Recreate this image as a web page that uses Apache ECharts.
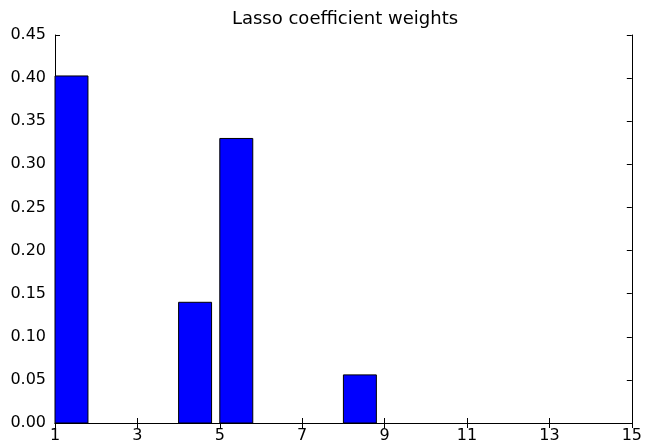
<!DOCTYPE html>
<html>
<head>
<meta charset="utf-8">
<script src="https://cdn.jsdelivr.net/npm/echarts@6/dist/echarts.min.js"></script>
<style>html,body{margin:0;padding:0;background:#fff}#c{width:645px;height:448px}</style>
</head>
<body>
<div id="c"></div>
<script>
const features = [1, 2, 3, 4, 5, 6, 7, 8, 9, 10, 11, 12, 13, 14];
const weights = [0.4025, 0, 0, 0.140, 0.330, 0, 0, 0.0558, 0, 0, 0, 0, 0, 0];
const xTicks = [1, 3, 5, 7, 9, 11, 13, 15];
const yTicks = [0, 0.05, 0.10, 0.15, 0.20, 0.25, 0.30, 0.35, 0.40, 0.45];

const BAR_W = 0.8;
const font = 'DejaVu Sans';
const chart = echarts.init(document.getElementById('c'), null, {renderer: 'canvas'});
const data = features.map((f, i) => [f, weights[i]]).filter(d => d[1] > 0);

const axisCommon = {
  axisLine: {show: true, lineStyle: {color: '#000', width: 1}},
  axisTick: {show: true, inside: true, length: 5, lineStyle: {color: '#000', width: 1}},
  splitLine: {show: false}
};

chart.setOption({
  animation: false,
  backgroundColor: '#fff',
  title: {
    text: 'Lasso coefficient weights',
    left: 340, textAlign: 'center', top: 5,
    textStyle: {fontFamily: font, fontSize: 18, fontWeight: 'normal', color: '#000'}
  },
  grid: {left: 55, right: 11, top: 35, bottom: 25, containLabel: false},
  xAxis: [
    Object.assign({type: 'value', position: 'bottom', min: xTicks[0], max: xTicks[xTicks.length - 1], interval: 2,
      axisLabel: {fontFamily: font, fontSize: 16, color: '#000', margin: 5}}, axisCommon),
    Object.assign({type: 'value', position: 'top', min: xTicks[0], max: xTicks[xTicks.length - 1], interval: 2,
      axisLabel: {show: false}}, axisCommon)
  ],
  yAxis: [
    Object.assign({type: 'value', position: 'left', min: yTicks[0], max: yTicks[yTicks.length - 1], interval: 0.05,
      axisLabel: {fontFamily: font, fontSize: 16, color: '#000', margin: 9, formatter: v => v.toFixed(2)}}, axisCommon),
    Object.assign({type: 'value', position: 'right', min: yTicks[0], max: yTicks[yTicks.length - 1], interval: 0.05,
      axisLabel: {show: false}}, axisCommon)
  ],
  series: [{
    type: 'custom',
    xAxisIndex: 0, yAxisIndex: 0,
    data: data,
    renderItem: function (params, api) {
      const x = api.value(0), y = api.value(1);
      const p0 = api.coord([x, 0]);
      const p1 = api.coord([x + BAR_W, y]);
      return {
        type: 'rect',
        shape: {x: p0[0], y: p1[1], width: p1[0] - p0[0], height: p0[1] - p1[1]},
        style: {fill: '#0000ff', stroke: '#000', lineWidth: 1}
      };
    }
  }]
});
</script>
</body>
</html>
